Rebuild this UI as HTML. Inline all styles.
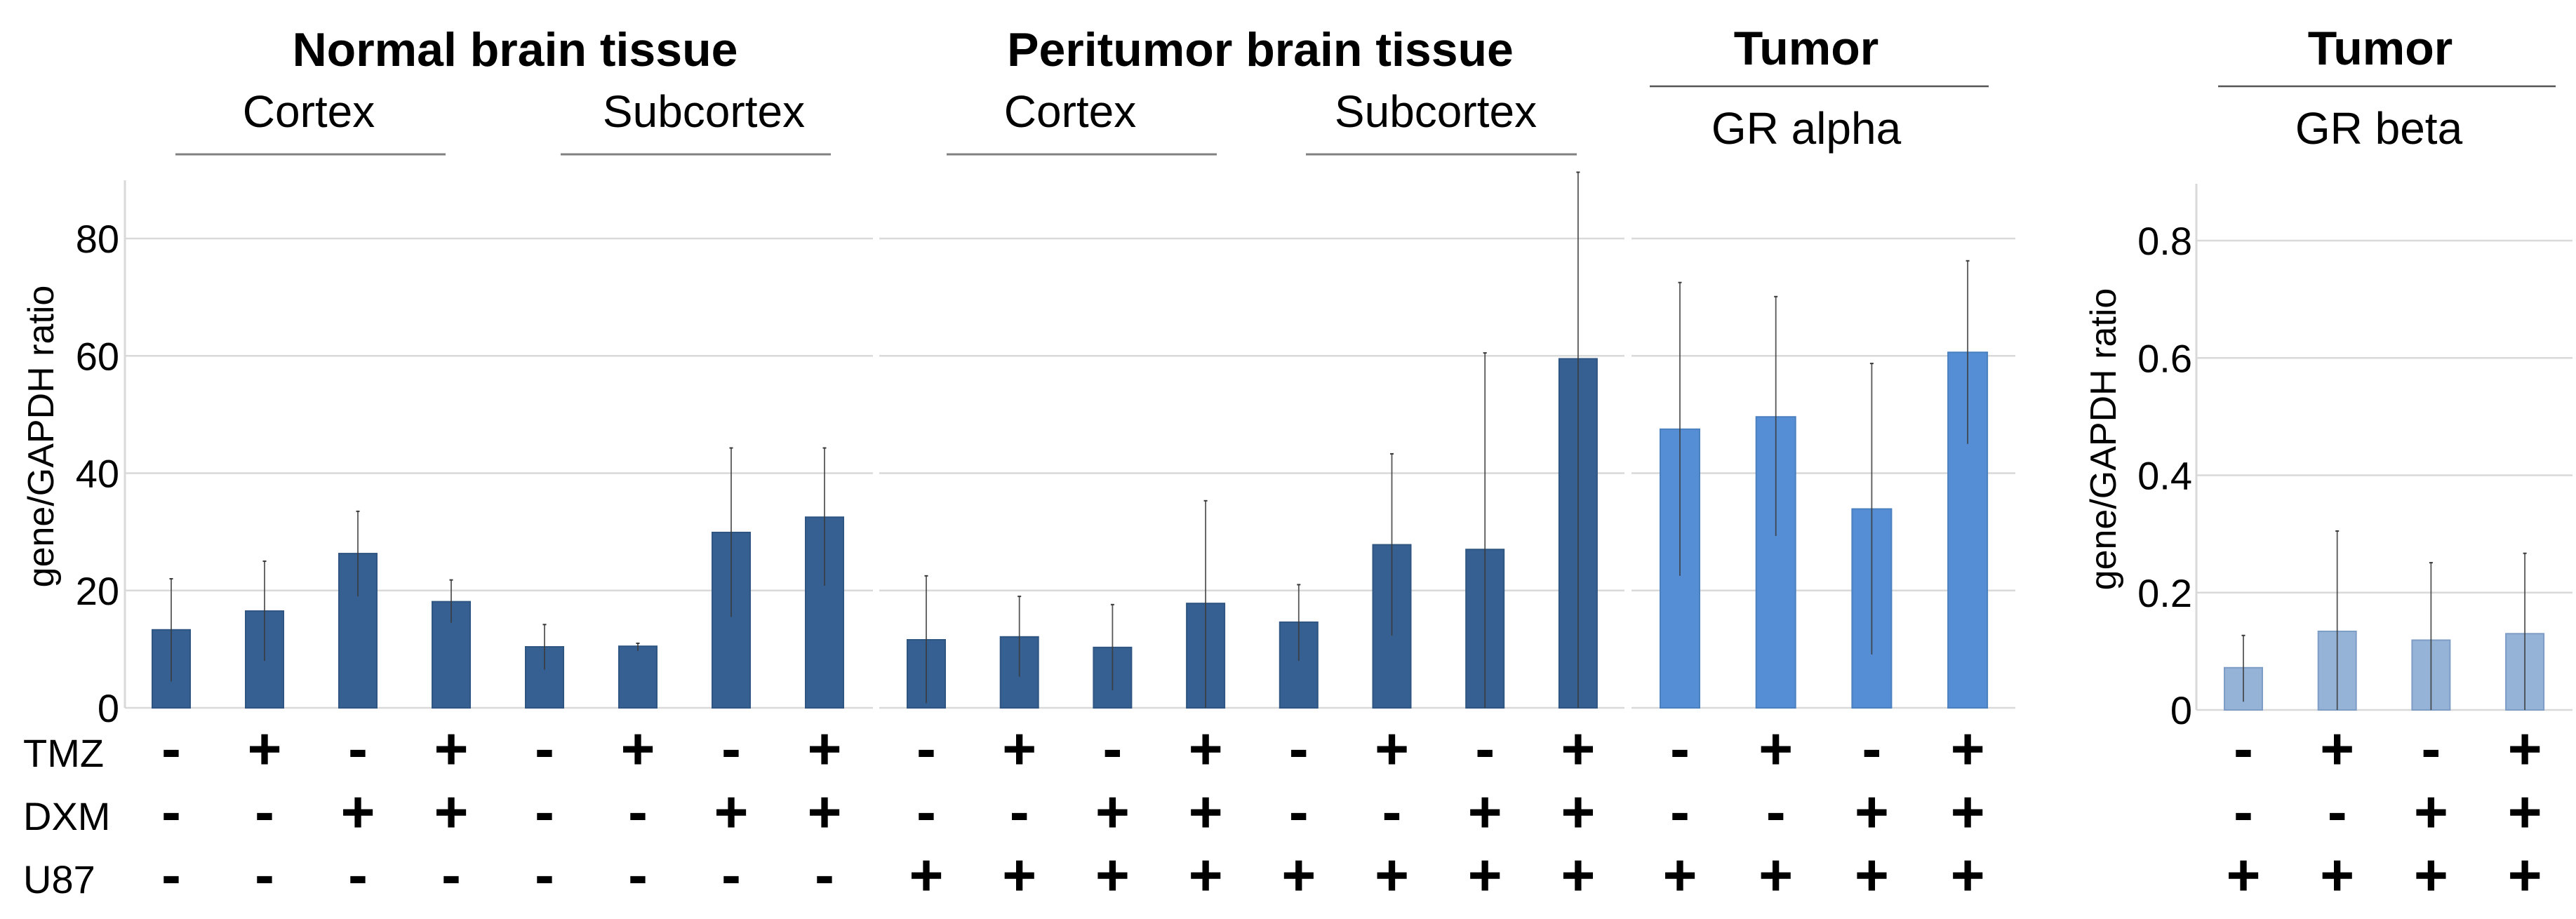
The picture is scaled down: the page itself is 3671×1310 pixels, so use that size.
<!DOCTYPE html>
<html><head><meta charset="utf-8">
<style>
html,body{margin:0;padding:0;background:#fff;}
svg{display:block;font-family:"Liberation Sans",Arial,sans-serif;}
</style></head>
<body>
<svg id="chart" width="3671" height="1310" viewBox="0 0 3671 1310" xmlns="http://www.w3.org/2000/svg">
<g id="headers">
  <text x="734" y="94" font-size="68" font-weight="bold" text-anchor="middle">Normal brain tissue</text>
  <text x="440" y="181" font-size="64" text-anchor="middle">Cortex</text>
  <line x1="250" y1="220" x2="635" y2="220" stroke="#808080" stroke-width="3"/>
  <text x="1003" y="181" font-size="64" text-anchor="middle">Subcortex</text>
  <line x1="799" y1="220" x2="1184" y2="220" stroke="#808080" stroke-width="3"/>
  <text x="1796" y="94" font-size="68" font-weight="bold" text-anchor="middle">Peritumor brain tissue</text>
  <text x="1525" y="181" font-size="64" text-anchor="middle">Cortex</text>
  <line x1="1349" y1="220" x2="1734" y2="220" stroke="#808080" stroke-width="3"/>
  <text x="2046" y="181" font-size="64" text-anchor="middle">Subcortex</text>
  <line x1="1861" y1="220" x2="2247" y2="220" stroke="#808080" stroke-width="3"/>
  <text x="2574" y="92" font-size="68" font-weight="bold" text-anchor="middle">Tumor</text>
  <line x1="2351" y1="123" x2="2834" y2="123" stroke="#555" stroke-width="2.5"/>
  <text x="2574" y="205" font-size="64" text-anchor="middle">GR alpha</text>
  <text x="3392" y="92" font-size="68" font-weight="bold" text-anchor="middle">Tumor</text>
  <line x1="3161" y1="123" x2="3642" y2="123" stroke="#555" stroke-width="2.5"/>
  <text x="3390" y="205" font-size="64" text-anchor="middle">GR beta</text>
  <text x="33" y="1093" font-size="56">TMZ</text>
  <text x="33" y="1183" font-size="56">DXM</text>
  <text x="33" y="1273" font-size="56">U87</text>
</g>
<g id="plot"></g>
</svg>
<script>
// ---- data ----
var normalValues = [13.3, 16.5, 26.3, 18.1, 10.4, 10.5, 29.9, 32.5];
var normalErrLow = [4.5, 8.0, 19.0, 14.5, 6.5, 9.7, 15.5, 20.8];
var normalErrHigh = [22.0, 25.0, 33.5, 21.8, 14.2, 11.0, 44.3, 44.3];
var periValues = [11.6, 12.1, 10.3, 17.8, 14.6, 27.8, 27.0, 59.5];
var periErrLow = [0.8, 5.3, 3.0, 0, 8.0, 12.3, 0, 0];
var periErrHigh = [22.5, 19.0, 17.6, 35.3, 21.0, 43.3, 60.5, 91.3];
var alphaValues = [47.5, 49.6, 33.9, 60.6];
var alphaErrLow = [22.5, 29.3, 9.1, 45.0];
var alphaErrHigh = [72.5, 70.1, 58.7, 76.2];
var betaValues = [0.072, 0.134, 0.119, 0.130];
var betaErrLow = [0.014, 0, 0, 0];
var betaErrHigh = [0.127, 0.305, 0.251, 0.267];
var leftTicks = [0, 20, 40, 60, 80];
var leftTickLabels = ["0", "20", "40", "60", "80"];
var rightTicks = [0, 0.2, 0.4, 0.6, 0.8];
var rightTickLabels = ["0", "0.2", "0.4", "0.6", "0.8"];
var tmzNormal = ["-","+","-","+","-","+","-","+"];
var dxmNormal = ["-","-","+","+","-","-","+","+"];
var u87Normal = ["-","-","-","-","-","-","-","-"];
var tmzPeri = ["-","+","-","+","-","+","-","+"];
var dxmPeri = ["-","-","+","+","-","-","+","+"];
var u87Peri = ["+","+","+","+","+","+","+","+"];
var tmzTumor = ["-","+","-","+"];
var dxmTumor = ["-","-","+","+"];
var u87Tumor = ["+","+","+","+"];

var NS = "http://www.w3.org/2000/svg";
var plot = document.getElementById("plot");
function mk(tag, attrs, parent) {
  var e = document.createElementNS(NS, tag);
  for (var k in attrs) e.setAttribute(k, attrs[k]);
  (parent || plot).appendChild(e);
  return e;
}
// axis functions
function yLeft(v) { return 1009 - v * (669 / 80); }
function yRight(v) { return 1012 - v * (669 / 0.8); }
function xNormal(i) { return 244 + i * 133; }
function xPeri(i) { return 1320 + i * 132.7; }
function xAlpha(i) { return 2394 + i * 136.7; }
function xBeta(i) { return 3197 + i * 133.7; }

// gridlines
function grid(ticks, yf, x1, x2, name) {
  for (var i = 0; i < ticks.length; i++) {
    var l = mk("line", {x1: x1, x2: x2, y1: yf(ticks[i]), y2: yf(ticks[i]), stroke: "#d9d9d9", "stroke-width": 2.5});
    
    
  }
}
grid(leftTicks, yLeft, 178, 1244, "normal");
grid(leftTicks, yLeft, 1253, 2315, "peritumor");
grid(leftTicks, yLeft, 2325, 2872, "gr-alpha");
grid(rightTicks, yRight, 3130, 3666, "gr-beta");

var ax1 = mk("line", {x1: 178, x2: 178, y1: 257, y2: 1009, stroke: "#d9d9d9", "stroke-width": 3});


var ax2 = mk("line", {x1: 3130, x2: 3130, y1: 262, y2: 1012, stroke: "#d9d9d9", "stroke-width": 3});



for (var i = 0; i < leftTicks.length; i++) {
  var t = mk("text", {x: 170, y: yLeft(leftTicks[i]) + 20, "font-size": 56, "text-anchor": "end"});
  t.textContent = leftTickLabels[i];
  
  
}
for (var i = 0; i < rightTicks.length; i++) {
  var t = mk("text", {x: 3124, y: yRight(rightTicks[i]) + 20, "font-size": 56, "text-anchor": "end"});
  t.textContent = rightTickLabels[i];
  
  
}
var yt1 = mk("text", {x: 0, y: 0, "font-size": 52, "text-anchor": "middle", transform: "translate(76,622) rotate(-90)"});
yt1.textContent = "gene/GAPDH ratio";


var yt2 = mk("text", {x: 0, y: 0, "font-size": 52, "text-anchor": "middle", transform: "translate(3015,626) rotate(-90)"});
yt2.textContent = "gene/GAPDH ratio";



function bars(vals, lo, hi, xf, yf, w, fill, stroke, name) {
  for (var i = 0; i < vals.length; i++) {
    var x = xf(i), y0 = yf(0), y = yf(vals[i]);
    var r = mk("rect", {x: x - w / 2, y: y, width: w, height: y0 - y, fill: fill, stroke: stroke, "stroke-width": 2});
    
    
    var e = mk("line", {x1: x, x2: x, y1: yf(hi[i]), y2: yf(lo[i]), stroke: "#3a3a3a", "stroke-width": 1.8, "stroke-opacity": 0.85});
    
    
    var c = mk("line", {x1: x - 2.5, x2: x + 2.5, y1: yf(hi[i]), y2: yf(hi[i]), stroke: "#3a3a3a", "stroke-width": 2});
    
    
  }
}
bars(normalValues, normalErrLow, normalErrHigh, xNormal, yLeft, 54, "#366092", "#2f5682", "normal");
bars(periValues, periErrLow, periErrHigh, xPeri, yLeft, 54, "#366092", "#2f5682", "peritumor");
bars(alphaValues, alphaErrLow, alphaErrHigh, xAlpha, yLeft, 56, "#558ed5", "#4a7fc0", "gr-alpha");
bars(betaValues, betaErrLow, betaErrHigh, xBeta, yRight, 54, "#95b3d7", "#7e9dc6", "gr-beta");

var rowBase = [1096, 1186, 1276];
function signs(rows, xf, name) {
  for (var r = 0; r < rows.length; r++) {
    for (var i = 0; i < rows[r].length; i++) {
      var s = mk("text", {x: xf(i), y: rowBase[r], "font-size": 84, "font-weight": "bold", "text-anchor": "middle"});
      s.textContent = rows[r][i];
      
      
    }
  }
}
signs([tmzNormal, dxmNormal, u87Normal], xNormal, "normal");
signs([tmzPeri, dxmPeri, u87Peri], xPeri, "peritumor");
signs([tmzTumor, dxmTumor, u87Tumor], xAlpha, "gr-alpha");
signs([tmzTumor, dxmTumor, u87Tumor], xBeta, "gr-beta");
</script>
</body></html>
